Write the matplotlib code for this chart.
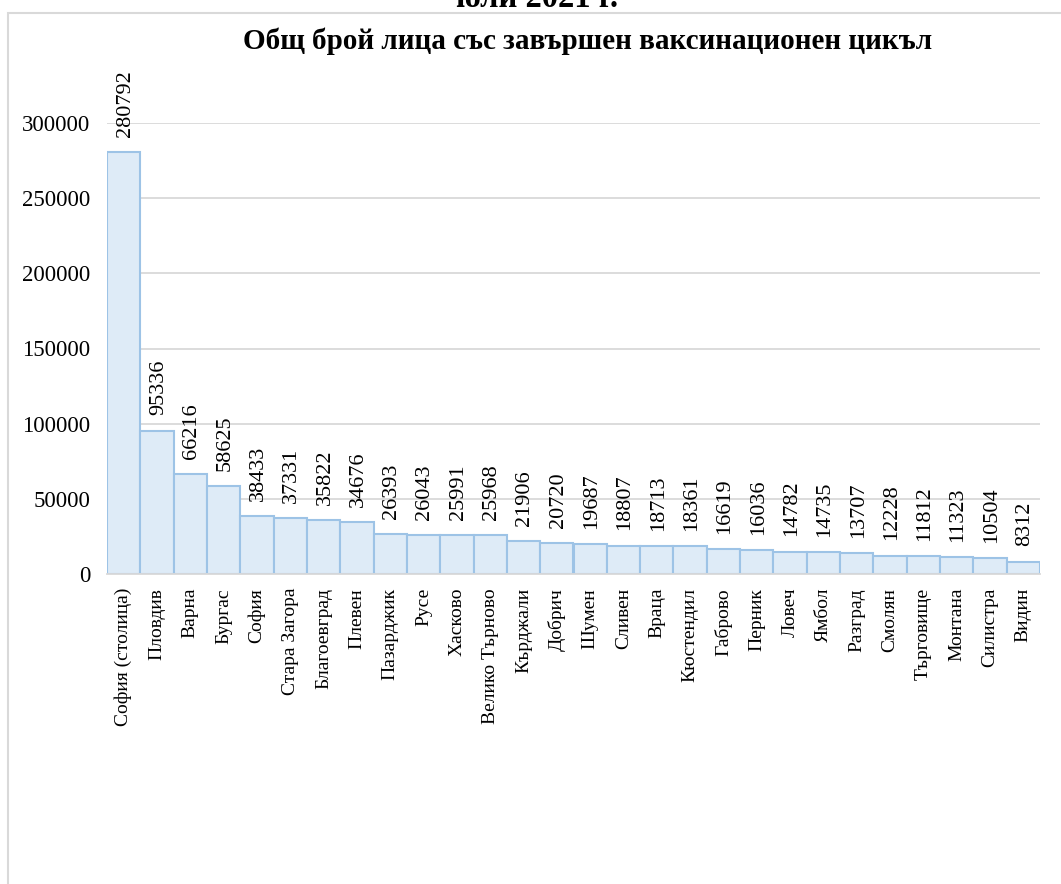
import matplotlib

matplotlib.use("Agg")
import matplotlib.pyplot as plt
from matplotlib.patches import Rectangle

plt.rcParams["font.family"] = ["Liberation Serif", "DejaVu Serif"]

REGIONS = ["София (столица)", "Пловдив", "Варна", "Бургас", "София", "Стара Загора",
           "Благоевград", "Плевен", "Пазарджик", "Русе", "Хасково", "Велико Търново",
           "Кърджали", "Добрич", "Шумен", "Сливен", "Враца", "Кюстендил", "Габрово",
           "Перник", "Ловеч", "Ямбол", "Разград", "Смолян", "Търговище", "Монтана",
           "Силистра", "Видин"]
VACCINATED = [280792, 95336, 66216, 58625, 38433, 37331, 35822, 34676, 26393, 26043,
              25991, 25968, 21906, 20720, 19687, 18807, 18713, 18361, 16619, 16036,
              14782, 14735, 13707, 12228, 11812, 11323, 10504, 8312]
Y_TICKS = [0, 50000, 100000, 150000, 200000, 250000, 300000]

fig = plt.figure(figsize=(10.61, 8.84), dpi=100)
# chart frame (cut off at right and bottom, like the screenshot)
fig.patches.append(Rectangle((8 / 1061, -0.05), 1.1, 1 - 13 / 884 + 0.05,
                             transform=fig.transFigure, fill=False,
                             edgecolor="#d9d9d9", lw=1.5))
fig.text(537 / 1061, 1.0 - 7 / 884, "юли 2021 г.", ha="center", va="baseline",
         fontsize=23.5, fontweight="bold")
fig.text(588 / 1061, 1 - 41 / 884, "Общ брой лица със завършен ваксинационен цикъл",
         ha="center", va="center", fontsize=21, fontweight="bold")

ax = fig.add_axes([107 / 1061, 1 - 574 / 884, (1040 - 107) / 1061, (574 - 123) / 884])
x = range(len(REGIONS))
ax.bar(x, VACCINATED, width=1.0, color="#deebf7", edgecolor="#9dc3e6", lw=1.5, zorder=2)
for i, v in zip(x, VACCINATED):
    ax.annotate(str(v), (i, v), xytext=(1, 11), textcoords="offset points",
                rotation=90, ha="center", va="bottom", fontsize=16, annotation_clip=False)

ax.set_xlim(-0.5, len(REGIONS) - 0.5)
ax.set_ylim(0, 300000)
ax.set_yticks(Y_TICKS)
ax.set_yticklabels([str(t) for t in Y_TICKS], fontsize=16.5)
ax.set_xticks(list(x))
ax.set_xticklabels(REGIONS, rotation=90, fontsize=14, va="top")
ax.tick_params(axis="both", length=0)
ax.tick_params(axis="x", pad=10)
ax.tick_params(axis="y", pad=12)
ax.grid(axis="y", color="#d9d9d9", lw=1.3, zorder=0)
for s in ["top", "right", "left"]:
    ax.spines[s].set_visible(False)
ax.spines["bottom"].set_color("#d9d9d9")
ax.spines["bottom"].set_linewidth(1.3)

fig.savefig("out.png", dpi=100)
